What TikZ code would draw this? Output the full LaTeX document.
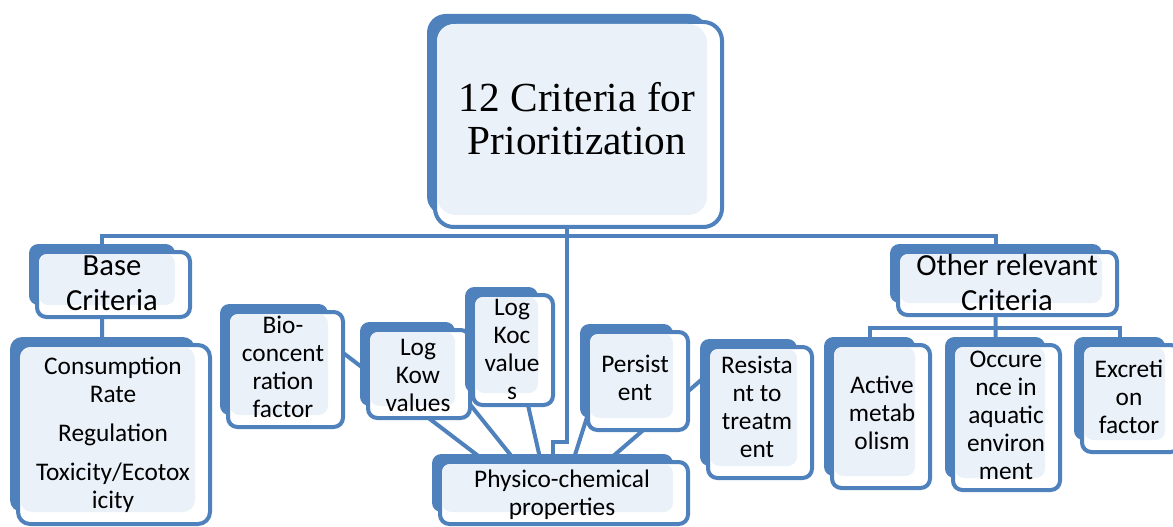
\documentclass[tikz,border=0pt]{standalone}
\usepackage{fontspec}
\setmainfont{Carlito}
\newfontfamily\titlefont{Liberation Serif}
\usetikzlibrary{fit,backgrounds}
\definecolor{bblue}{HTML}{4F81BD}
\definecolor{lfill}{HTML}{EBF1F9}
% #1 name, #2 x1, #3 y1, #4 x2, #5 y2 (front box, px), #6 corner radius
\newcommand\smbox[6]{%
  \fill[bblue, rounded corners=#6] (#2-8,#3-8) rectangle (#4-15,#5-12);
  \path (#2,#3) coordinate (#1-nw) (#4,#5) coordinate (#1-se)
        ({(#2+#4-23)/2},{(#3+#5-20)/2}) coordinate (#1-sc);
  \node[frontbox, rounded corners=#6, fit=(#1-nw)(#1-se)] (#1) {};
  \fill[lfill, rounded corners=#6] (#2+2,#3+2) rectangle (#4-15,#5-12);
}
\begin{document}
\begin{tikzpicture}[x=0.75pt,y=-0.75pt,
  frontbox/.style={draw=bblue, line width=3pt, fill=white, inner sep=0pt},
  conn/.style={draw=bblue, line width=3pt},
  leaf/.style={font=\fontsize{19pt}{21pt}\selectfont, align=center, inner sep=0pt, text=black},
  head/.style={font=\fontsize{23pt}{26.25pt}\selectfont, align=center, inner sep=0pt, text=black},
  ttl/.style={font=\titlefont\fontsize{31pt}{32.25pt}\selectfont, align=center, inner sep=0pt, text=black}]
\useasboundingbox (0,0) rectangle (1173,527);
\clip (0,0) rectangle (1173,527);

% boxes
\smbox{top}{435}{22}{722}{227}{14pt}
\smbox{base}{37}{252}{190}{317}{7pt}
\smbox{cons}{18}{345}{210}{524}{9pt}
\smbox{bio}{228}{312}{343}{427}{7pt}
\smbox{kow}{368}{330}{470}{418}{7pt}
\smbox{koc}{473}{295}{553}{405}{7pt}
\smbox{per}{588}{332}{688}{430}{7pt}
\smbox{res}{708}{347}{812}{478}{7pt}
\smbox{phys}{440}{462}{688}{524}{7pt}
\smbox{other}{898}{252}{1117}{315}{7pt}
\smbox{act}{832}{345}{930}{488}{7pt}
\smbox{occ}{953}{345}{1060}{490}{7pt}
\smbox{exc}{1082}{345}{1180}{452}{7pt}

% texts
\node[ttl] (top-t) at (577,124.9) {\strut 12 Criteria for\\\strut Prioritization};
\node[head] (base-t) at (112,285.5) {\strut Base\\\strut Criteria};
\node[head] (other-t) at (1007,285.5) {\strut Other relevant\\\strut Criteria};
\node[leaf] (cons-t) at (113,436) {\strut Consumption\\\strut Rate\\[8pt]\strut Regulation\\[8pt]\strut Toxicity/Ecotox\\\strut icity};
\node[leaf] (bio-t) at (283,369.4) {\strut Bio-\\\strut concent\\\strut ration\\\strut factor};
\node[leaf] (kow-t) at (418,377.4) {\strut Log\\\strut Kow\\\strut values};
\node[leaf] (koc-t) at (512,351.4) {\strut Log\\\strut Koc\\\strut value\\\strut s};
\node[leaf] (per-t) at (635,380.4) {\strut Persist\\\strut ent};
\node[leaf] (res-t) at (757,409.4) {\strut Resista\\\strut nt to\\\strut treatm\\\strut ent};
\node[leaf] (phys-t) at (562,495.4) {\strut Physico-chemical\\\strut properties};
\node[leaf] (act-t) at (882,415.4) {\strut Active\\\strut metab\\\strut olism};
\node[leaf] (occ-t) at (1006,417.4) {\strut Occure\\\strut nce in\\\strut aquatic\\\strut environ\\\strut ment};
\node[leaf] (exc-t) at (1129,399.4) {\strut Excreti\\\strut on\\\strut factor};

% connectors, behind the boxes
\begin{pgfonlayer}{background}
  \coordinate (barY) at (0,236);
  \coordinate (jogY) at (0,442);
  \coordinate (subY) at (0,328);
  \draw[conn] (base-sc) -- (base-sc |- barY) -- (other-sc |- barY) -- (other-sc);
  \draw[conn] (top-sc) -- (top-sc |- jogY) -- (phys-sc |- jogY) -- (phys-sc);
  \draw[conn] (base-sc) -- (cons-sc);
  \draw[conn] (other-sc) -- (occ-sc);
  \draw[conn] (act-sc) -- (act-sc |- subY) -- (exc-sc |- subY) -- (exc-sc);
  \coordinate (bio-a) at (300,320);  \coordinate (phys-a) at (481,458);
  \coordinate (kow-a) at (440,367);  \coordinate (phys-b) at (513,458);
  \coordinate (koc-a) at (520,370);  \coordinate (phys-c) at (540,458);
  \coordinate (per-a) at (595,392);  \coordinate (phys-d) at (574,458);
  \coordinate (res-a) at (730,355);  \coordinate (phys-e) at (611,458);
  \draw[conn] (bio-a) -- (phys-a);
  \draw[conn] (kow-a) -- (phys-b);
  \draw[conn] (koc-a) -- (phys-c);
  \draw[conn] (per-a) -- (phys-d);
  \draw[conn] (res-a) -- (phys-e);
\end{pgfonlayer}
\end{tikzpicture}
\end{document}
